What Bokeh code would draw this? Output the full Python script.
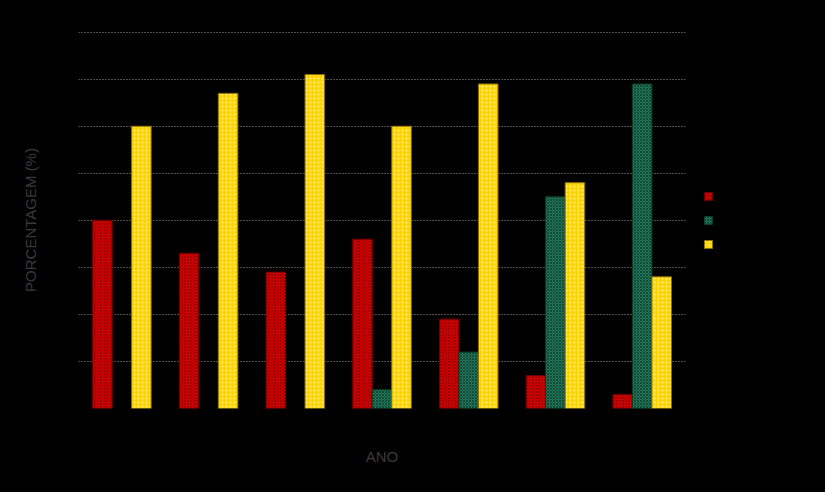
from bokeh.plotting import figure
from bokeh.models import ColumnDataSource, FactorRange, Legend, LegendItem, SingleIntervalTicker
from bokeh.transform import dodge
from bokeh.embed import file_html
from bokeh.resources import INLINE

anos = ["2008", "2009", "2010", "2011", "2012", "2013", "2014"]
serie_vermelha = [40, 33, 29, 36, 19, 7, 3]
serie_verde = [0, 0, 0, 4, 12, 45, 69]
serie_amarela = [60, 67, 71, 60, 69, 48, 28]
nomes = ["Série 1", "Série 2", "Série 3"]

src = ColumnDataSource(dict(ano=anos, v=serie_vermelha, g=serie_verde, a=serie_amarela,
                            g_line=[0 if x == 0 else 1 for x in serie_verde]))

p = figure(x_range=FactorRange(*anos), y_range=(0, 80.15),
           frame_width=607, frame_height=377,
           output_backend="svg", toolbar_location=None,
           background_fill_color="black", border_fill_color="black",
           min_border_left=78, min_border_right=140, min_border_top=31, min_border_bottom=84)
p.outline_line_color = None
p.styles = {"background-color": "black"}

w = 0.225
r1 = p.vbar(x=dodge("ano", -w, range=p.x_range), top="v", width=w, source=src,
            fill_color="#d80000", line_color="#6a0000", line_width=1,
            hatch_pattern="diagonal_cross", hatch_color="#a00000", hatch_scale=3, hatch_weight=1)
r2 = p.vbar(x=dodge("ano", 0, range=p.x_range), top="g", width=w, source=src,
            fill_color="#237a5c", line_color="#0a3a20", line_width=1, line_alpha="g_line",
            hatch_pattern="diagonal_cross", hatch_color="#124a36", hatch_scale=3, hatch_weight=1)
r3 = p.vbar(x=dodge("ano", w, range=p.x_range), top="a", width=w, source=src,
            fill_color="#ffd400", line_color="#8a7000", line_width=1,
            hatch_pattern="dot", hatch_color="#fff08a", hatch_scale=4, hatch_weight=1)

p.xgrid.grid_line_color = None
p.ygrid.grid_line_color = "#9a9a9a"
p.ygrid.grid_line_dash = "1 2"
p.ygrid.grid_line_width = 1
p.yaxis.ticker = SingleIntervalTicker(interval=10)

for ax in (p.xaxis[0], p.yaxis[0]):
    ax.axis_line_color = None
    ax.major_tick_line_color = None
    ax.minor_tick_line_color = None
    ax.major_label_text_color = "black"
    ax.axis_label_text_color = "#3a3a3a"
    ax.axis_label_text_font = "Liberation Sans"
    ax.axis_label_text_font_size = "15px"
    ax.axis_label_text_font_style = "normal"

p.xaxis.axis_label = "ANO"
p.yaxis.axis_label = "PORCENTAGEM (%)"
p.xaxis.axis_label_standoff = 17
p.yaxis.axis_label_standoff = 13

legend = Legend(items=[LegendItem(label=nomes[0], renderers=[r1]),
                       LegendItem(label=nomes[1], renderers=[r2]),
                       LegendItem(label=nomes[2], renderers=[r3])],
                location="center_left", background_fill_alpha=0,
                border_line_color=None, label_text_color="black", label_text_font_size="11px",
                glyph_width=10, glyph_height=10, label_height=10, spacing=12,
                padding=8, margin=18)
p.add_layout(legend, "right")

html = file_html(p, INLINE)
html = html.replace("<body>", '<body style="background:black; margin:0">', 1)
open("out.html", "w").write(html)
